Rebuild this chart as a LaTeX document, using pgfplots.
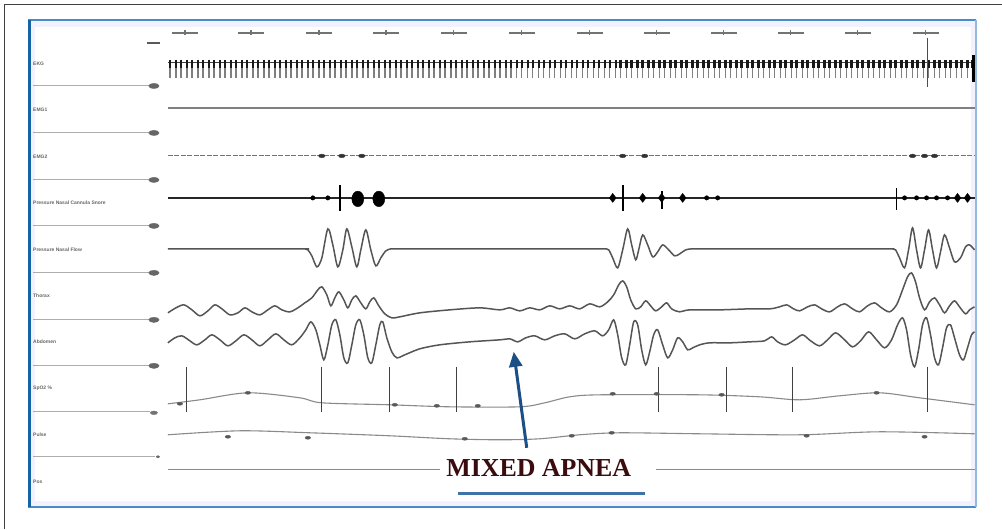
\documentclass[border=0pt]{standalone}
\usepackage{pgfplots}
\pgfplotsset{compat=1.18}
\usepackage{pgfplotstable}
\usepackage{fontspec}
\setmainfont{Liberation Serif}
\newfontfamily\labfont{Liberation Sans}
\usetikzlibrary{arrows.meta}
\definecolor{trace}{HTML}{555555}
\definecolor{lighttrace}{HTML}{8A8A8A}
\definecolor{framblue}{HTML}{4A8CC8}
\definecolor{darkframe}{HTML}{1763A8}
\definecolor{apnea}{HTML}{3A0C0E}
\definecolor{arrowblue}{HTML}{1B4F86}
\definecolor{ulblue}{HTML}{3F73A6}

% ECG beat positions (px)
\pgfplotstableread[row sep=\\]{x y\\170 60\\176 60\\181 60\\187 60\\192 60\\198 60\\203 60\\209 60\\214 60\\220 60\\225 60\\231 60\\236 60\\242 60\\247 60\\253 60\\258 60\\264 60\\269 60\\275 60\\280 60\\286 60\\291 60\\297 60\\302 60\\308 60\\313 60\\319 60\\324 60\\330 60\\335 60\\341 60\\346 60\\352 60\\357 60\\363 60\\368 60\\374 60\\379 60\\385 60\\390 60\\396 60\\401 60\\407 60\\412 60\\418 60\\423 60\\429 60\\434 60\\440 60\\445 60\\451 60\\456 60\\462 60\\467 60\\473 60\\478 60\\484 60\\489 60\\495 60\\500 60\\506 60\\511 60\\517 60\\522 60\\528 60\\533 60\\539 60\\544 60\\550 60\\555 60\\561 60\\566 60\\572 60\\577 60\\583 60\\588 60\\594 60\\599 60\\605 60\\610 60\\616 60\\621 60\\627 60\\632 60\\638 60\\643 60\\649 60\\654 60\\660 60\\665 60\\671 60\\676 60\\682 60\\687 60\\693 60\\698 60\\704 60\\709 60\\715 60\\720 60\\726 60\\731 60\\737 60\\742 60\\748 60\\753 60\\759 60\\764 60\\770 60\\775 60\\781 60\\786 60\\792 60\\797 60\\803 60\\808 60\\814 60\\819 60\\825 60\\830 60\\836 60\\841 60\\847 60\\852 60\\858 60\\863 60\\869 60\\874 60\\880 60\\885 60\\891 60\\896 60\\902 60\\907 60\\913 60\\918 60\\924 60\\929 60\\935 60\\940 60\\946 60\\951 60\\957 60\\962 60\\968 60\\973 60\\}\ecg

\begin{document}
\begin{tikzpicture}
\begin{axis}[
  width=1002bp, height=529bp, scale only axis,
  xmin=0, xmax=1002, ymin=0, ymax=529, y dir=reverse,
  hide axis, clip=false]

% background and frames
\fill[white] (axis cs:0,0) rectangle (axis cs:1002,529);
\draw[black!75, line width=1bp] (axis cs:5,529) -- (axis cs:5,5) -- (axis cs:1002,5);
\fill[blue!5] (axis cs:29,20) rectangle (axis cs:976,507);
\fill[white] (axis cs:35,27) rectangle (axis cs:971,501);
\draw[framblue, line width=1.5bp] (axis cs:29,20) rectangle (axis cs:976,507);
\draw[darkframe, line width=3bp] (axis cs:30,20) -- (axis cs:30,507);
\draw[framblue!60, line width=2bp] (axis cs:976,20) -- (axis cs:976,507);

% left reference lines and scale blobs
\addplot[lighttrace!70, line width=1bp] coordinates {(33,86)(150,86)};
\addplot[lighttrace!70, line width=1bp] coordinates {(33,133)(150,133)};
\addplot[lighttrace!70, line width=1bp] coordinates {(33,180)(150,180)};
\addplot[lighttrace!70, line width=1bp] coordinates {(33,226)(150,226)};
\addplot[lighttrace!70, line width=1bp] coordinates {(33,273)(150,273)};
\addplot[lighttrace!70, line width=1bp] coordinates {(33,320)(150,320)};
\addplot[lighttrace!70, line width=1bp] coordinates {(33,366)(150,366)};
\addplot[lighttrace!70, line width=1bp] coordinates {(33,412)(150,412)};
\addplot[lighttrace!70, line width=1bp] coordinates {(33,457)(155,457)};
\addplot[only marks, mark=*, mark size=2.6bp, mark options={xscale=2, draw=black!60, fill=black!60}]
  coordinates {(154,86)(154,133)(154,180)(154,226)(154,273)(154,320)(154,366)};
\addplot[only marks, mark=*, mark size=1.8bp, mark options={xscale=2, draw=black!55, fill=black!55}]
  coordinates {(154,413)};
\addplot[only marks, mark=*, mark size=1.2bp, mark options={xscale=1.5, draw=black!60, fill=black!60}]
  coordinates {(158,457)};
\addplot[black!65, line width=1.5bp] coordinates {(147,43)(160,43)};

% channel labels
\node[anchor=west, font=\labfont\bfseries\fontsize{5}{5}\selectfont, text=black!60, inner sep=0] at (axis cs:33,64) {EKG};
\node[anchor=west, font=\labfont\bfseries\fontsize{5}{5}\selectfont, text=black!60, inner sep=0] at (axis cs:33,110) {EMG1};
\node[anchor=west, font=\labfont\bfseries\fontsize{5}{5}\selectfont, text=black!60, inner sep=0] at (axis cs:33,157) {EMG2};
\node[anchor=west, font=\labfont\bfseries\fontsize{5}{5}\selectfont, text=black!60, inner sep=0] at (axis cs:33,203) {Pressure Nasal Cannula Snore};
\node[anchor=west, font=\labfont\bfseries\fontsize{5}{5}\selectfont, text=black!60, inner sep=0] at (axis cs:33,250) {Pressure Nasal Flow};
\node[anchor=west, font=\labfont\bfseries\fontsize{5}{5}\selectfont, text=black!60, inner sep=0] at (axis cs:33,296) {Thorax};
\node[anchor=west, font=\labfont\bfseries\fontsize{5}{5}\selectfont, text=black!60, inner sep=0] at (axis cs:33,342) {Abdomen};
\node[anchor=west, font=\labfont\bfseries\fontsize{5}{5}\selectfont, text=black!60, inner sep=0] at (axis cs:33,388) {SpO2 \%};
\node[anchor=west, font=\labfont\bfseries\fontsize{5}{5}\selectfont, text=black!60, inner sep=0] at (axis cs:33,435) {Pulse};
\node[anchor=west, font=\labfont\bfseries\fontsize{5}{5}\selectfont, text=black!60, inner sep=0] at (axis cs:33,482) {Pos};

% time markers
\addplot[draw=none, mark=none,
  error bars/.cd, x dir=both, x fixed=13, y dir=both, y fixed=2.5, error mark=none,
  error bar style={draw=black!55, line width=1.4bp}]
  coordinates {(185,33)(251,33)(319,33)(386,33)(454,33)(522,33)(590,33)(657,33)(724,33)(791,33)(858,33)(926,33)};

% ECG
\addplot[black!75, line width=1bp] coordinates {(168,63)(975,63)};
\addplot[draw=none, mark=none,
  error bars/.cd, y dir=plus, y fixed=18, error mark=none,
  error bar style={draw=black!50, line width=1.5bp}] table {\ecg};
\addplot[draw=none, mark=none,
  error bars/.cd, y dir=plus, y fixed=8, error mark=none,
  error bar style={draw=black!90, line width=2.4bp}] table {\ecg};
\addplot[black!70, line width=1.2bp] coordinates {(928,38)(928,87)};
\addplot[black, line width=2.5bp] coordinates {(974,55)(974,82)};

% channel 2: flat
\addplot[black!50, line width=2bp] coordinates {(168,108)(975,108)};

% channel 3
\addplot[black!55, line width=1bp, dash pattern=on 5bp off 1.5bp] coordinates {(168,156)(975,156)};
\addplot[only marks, mark=*, mark size=1.8bp, mark options={xscale=1.8, draw=black!80, fill=black!80}]
  coordinates {(322,156)(342,156)(362,156)(623,156)(645,156)(913,156)(925,156)(935,156)};

% channel 4: bursts
\addplot[black!85, line width=1.2bp] coordinates {(168,198)(975,198)};
\addplot[only marks, mark=*, mark size=2.2bp, mark options={draw=black, fill=black}]
  coordinates {(313,198)(328,198)(707,198)(718,198)(905,198)(917,198)(927,198)(937,198)(948,198)};
\addplot[only marks, mark=diamond*, mark size=4.5bp, mark options={draw=black, fill=black}]
  coordinates {(613,198)(643,198)(662,198)(683,198)(958,198)(968,198)};
\addplot[only marks, mark=*, mark size=6bp, mark options={yscale=1.3, draw=black, fill=black}]
  coordinates {(358,199)(379,199)};
\addplot[draw=none, mark=none,
  error bars/.cd, y dir=both, y explicit, error mark=none,
  error bar style={draw=black, line width=1.8bp}]
  coordinates {(340,198) +- (0,13) (623,198) +- (0,13) (662,200) +- (0,9) (897,199) +- (0,11)};

% channel 5: flow
\addplot[trace, line width=1.5bp, smooth, tension=0.5] coordinates {
(168,249)(300,249)(305,249)(308,250)(312,256)(317,267)(322,258)(328,229)(333,245)(338,267)(343,250)(347,229)(352,247)(357,267)(361,250)(366,230)(371,250)(376,266)(381,258)(386,251)(391,249)(396,249)(402,249)(450,249)(550,249)(600,249)(605,249)(609,250)(613,258)(618,268)(623,250)(628,229)(632,245)(636,260)(639,250)(643,235)(648,245)(653,257)(658,252)(663,245)(669,250)(675,256)(680,254)(686,250)(692,249)(698,249)(705,249)(800,249)(888,249)(893,249)(896,250)(900,258)(905,268)(909,250)(913,228)(917,250)(921,268)(925,250)(929,230)(933,250)(937,268)(941,252)(945,235)(950,248)(955,262)(961,258)(966,247)(970,245)(975,250)};

% channel 6: thorax
\addplot[trace, line width=1.5bp, smooth, tension=0.5] coordinates {
(168,313)(176,308)(184,305)(192,310)(200,316)(208,311)(215,305)(222,309)(230,315)(238,313)(245,308)(252,312)(260,315)(268,310)(275,306)(282,310)(290,312)(298,308)(305,303)(312,298)(318,290)(322,287)(327,295)(331,306)(335,298)(339,292)(344,300)(348,308)(352,300)(356,296)(361,303)(366,309)(370,302)(374,298)(379,306)(385,314)(392,318)(400,317)(420,313)(450,310)(480,308)(500,310)(510,308)(520,311)(530,308)(540,310)(550,306)(560,309)(570,306)(580,309)(590,304)(600,307)(608,302)(614,295)(619,285)(623,281)(627,287)(631,300)(636,309)(641,307)(646,301)(651,306)(656,311)(662,307)(667,303)(672,309)(680,312)(690,310)(720,310)(750,309)(770,309)(780,307)(787,305)(794,309)(800,311)(808,307)(815,305)(822,309)(830,312)(838,307)(845,304)(853,309)(860,312)(868,306)(875,303)(882,308)(890,312)(897,305)(903,290)(908,277)(912,273)(916,282)(920,298)(925,310)(930,302)(935,298)(940,305)(945,313)(950,306)(955,301)(960,307)(966,314)(970,310)(975,307)};

% channel 7: abdomen
\addplot[trace, line width=1.5bp, smooth, tension=0.5] coordinates {
(168,343)(175,338)(182,336)(190,341)(197,345)(205,340)(212,335)(220,340)(228,346)(236,341)(244,335)(252,340)(260,346)(268,340)(276,334)(284,340)(292,345)(300,338)(306,330)(311,322)(316,330)(320,345)(324,360)(328,345)(332,325)(336,320)(340,335)(344,358)(348,363)(352,345)(356,325)(360,320)(364,335)(368,358)(372,363)(376,345)(380,325)(383,322)(387,338)(392,352)(397,358)(405,355)(420,349)(440,345)(470,342)(500,340)(510,339)(518,342)(526,338)(535,336)(545,340)(555,336)(565,334)(575,339)(585,334)(595,331)(603,336)(609,330)(614,320)(618,335)(622,358)(626,365)(630,345)(634,322)(638,325)(642,350)(646,365)(650,352)(654,335)(658,330)(663,345)(668,358)(673,350)(678,338)(683,342)(688,350)(693,348)(700,345)(710,343)(730,343)(750,342)(765,341)(772,337)(778,342)(786,345)(795,340)(803,335)(811,341)(820,346)(828,340)(836,333)(845,340)(853,347)(861,341)(869,332)(877,340)(885,348)(892,340)(898,325)(903,318)(907,330)(911,355)(915,367)(919,350)(923,325)(927,318)(931,335)(935,358)(939,365)(943,348)(947,328)(951,325)(955,338)(960,355)(964,360)(968,348)(972,335)(975,332)};

% channel 8: saturation
\addplot[lighttrace, line width=1.1bp, smooth] coordinates {
(168,404)(200,400)(248,393)(300,398)(322,403)(390,405)(450,407)(520,407)(545,403)(570,397)(600,395)(700,395)(760,397)(800,400)(840,396)(880,393)(920,398)(975,405)};
\addplot[draw=none, mark=none,
  error bars/.cd, y dir=plus, y fixed=45, error mark=none,
  error bar style={draw=black!75, line width=1.1bp}]
  coordinates {(187,367)(322,367)(390,367)(457,367)(659,367)(727,367)(793,367)(928,367)};
\addplot[only marks, mark=*, mark size=1.5bp, mark options={xscale=1.8, draw=black!65, fill=black!65}]
  coordinates {(180,404)(248,393)(395,405)(437,406)(478,406)(613,394)(657,394)(722,395)(877,393)};

% channel 9: pulse
\addplot[lighttrace, line width=1.1bp, smooth] coordinates {
(168,435)(240,431)(310,433)(390,436)(450,439)(500,440)(540,439)(580,435)(620,433)(700,434)(800,435)(880,432)(975,434)};
\addplot[only marks, mark=*, mark size=1.5bp, mark options={xscale=1.8, draw=black!65, fill=black!65}]
  coordinates {(228,437)(308,438)(465,439)(572,436)(612,433)(807,436)(925,437)};

% channel 10
\addplot[lighttrace, line width=1.2bp] coordinates {(168,470)(440,470)};
\addplot[lighttrace, line width=1.2bp] coordinates {(656,470)(975,470)};

% annotation
\draw[-{Triangle[length=15bp,width=13bp]}, line width=3bp, arrowblue] (axis cs:527,448) -- (axis cs:514,352);
\node[font=\fontsize{26}{26}\selectfont\bfseries, text=apnea, inner sep=0] at (axis cs:539,468) {MIXED APNEA};
\draw[ulblue, line width=2.6bp] (axis cs:458,494) -- (axis cs:645,494);
\end{axis}
\end{tikzpicture}
\end{document}
